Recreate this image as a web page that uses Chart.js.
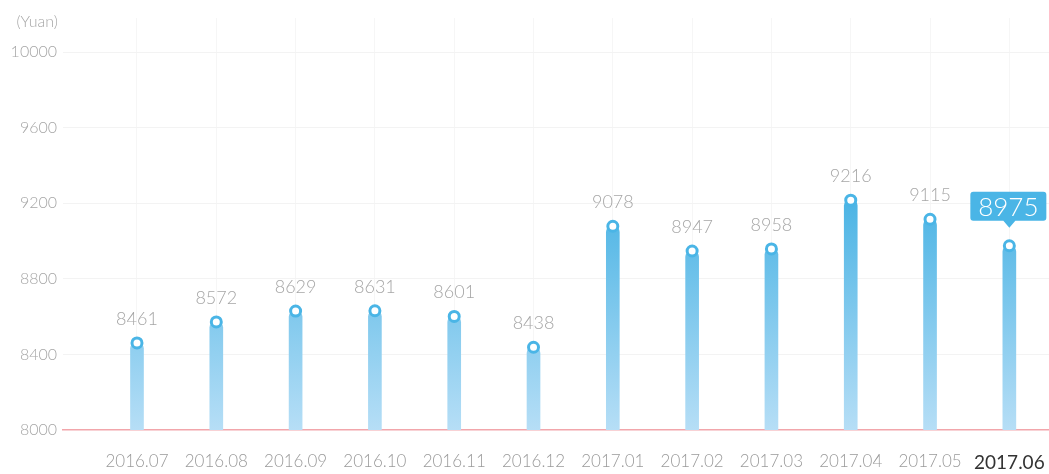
<!DOCTYPE html>
<html>
<head>
<meta charset="utf-8">
<script src="https://cdn.jsdelivr.net/npm/chart.js@4/dist/chart.umd.min.js"></script>
<style>
  html, body { margin: 0; padding: 0; background: #fff; }
  #wrap { width: 1049px; height: 474px; position: relative; }
</style>
</head>
<body>
<div id="wrap"><canvas id="c" width="1049" height="474"></canvas></div>
<script>
// Monthly average salary (Yuan)
const months = ['2016.07', '2016.08', '2016.09', '2016.10', '2016.11', '2016.12',
                '2017.01', '2017.02', '2017.03', '2017.04', '2017.05', '2017.06'];
const salary = [8461, 8572, 8629, 8631, 8601, 8438, 9078, 8947, 8958, 9216, 9115, 8975];
const yTicks = [8000, 8400, 8800, 9200, 9600, 10000];
const unitLabel = '(Yuan)';

const FONT = 'Lato, "Open Sans", sans-serif';
const BLUE = '#48b4e5';
const lastIdx = months.length - 1;

const points = salary.map((v, i) => ({ x: i, y: v }));

function barGradient(ctx) {
  const chart = ctx.chart;
  const area = chart.chartArea;
  if (!area) return BLUE;
  const yScale = chart.scales.y;
  const g = chart.ctx.createLinearGradient(0, yScale.getPixelForValue(9300), 0, area.bottom);
  g.addColorStop(0, '#44b1e3');
  g.addColorStop(1, '#b6def6');
  return g;
}

// Value labels, highlighted callout for the latest month, and the unit caption
const annotate = {
  id: 'annotate',
  afterDatasetsDraw(chart) {
    const c = chart.ctx;
    const meta = chart.getDatasetMeta(1);
    c.save();
    meta.data.forEach((pt, i) => {
      const v = salary[i];
      if (i === lastIdx) {
        const w = 76, h = 29;
        const bx = pt.x - 39, by = pt.y - 54;
        c.fillStyle = '#4ab5e6';
        c.beginPath();
        c.moveTo(bx + 3, by);
        c.lineTo(bx + w - 3, by);
        c.quadraticCurveTo(bx + w, by, bx + w, by + 3);
        c.lineTo(bx + w, by + h - 3);
        c.quadraticCurveTo(bx + w, by + h, bx + w - 3, by + h);
        c.lineTo(pt.x + 6, by + h);
        c.lineTo(pt.x, by + h + 7);
        c.lineTo(pt.x - 6, by + h);
        c.lineTo(bx + 3, by + h);
        c.quadraticCurveTo(bx, by + h, bx, by + h - 3);
        c.lineTo(bx, by + 3);
        c.quadraticCurveTo(bx, by, bx + 3, by);
        c.closePath();
        c.fill();
        c.fillStyle = '#ffffff';
        c.font = '300 26px ' + FONT;
        c.textAlign = 'center';
        c.textBaseline = 'middle';
        c.fillText(String(v), bx + w / 2, by + h / 2 + 1);
      } else {
        c.fillStyle = '#a6a6a6';
        c.font = '300 18px ' + FONT;
        c.textAlign = 'center';
        c.textBaseline = 'middle';
        c.fillText(String(v), pt.x, pt.y - 24);
      }
    });
    c.fillStyle = '#a6a6a6';
    c.font = '300 16px ' + FONT;
    c.textAlign = 'right';
    c.textBaseline = 'middle';
    c.fillText(unitLabel, 58, 22);
    c.restore();
  }
};

new Chart(document.getElementById('c'), {
  type: 'bar',
  data: {
    datasets: [
      {
        type: 'bar',
        data: points,
        backgroundColor: barGradient,
        barThickness: 13,
        borderWidth: 0,
        borderRadius: 6,
        borderSkipped: 'bottom',
        order: 2
      },
      {
        type: 'line',
        data: points,
        showLine: false,
        pointRadius: 5,
        pointBorderWidth: 3,
        pointBackgroundColor: '#ffffff',
        pointBorderColor: '#4ab5e6',
        pointHoverRadius: 5,
        clip: false,
        order: 1
      }
    ]
  },
  options: {
    responsive: false,
    animation: false,
    events: [],
    layout: { autoPadding: false, padding: { top: 18, right: 0, left: 0, bottom: 0 } },
    plugins: { legend: { display: false }, tooltip: { enabled: false } },
    scales: {
      x: {
        type: 'linear',
        offset: false,
        min: -0.933,
        max: 11.5,
        afterBuildTicks(scale) { scale.ticks = months.map((_, i) => ({ value: i })); },
        afterFit(scale) {
          scale.height = 44;
          scale.paddingLeft = 0;
          scale.paddingRight = 0;
        },
        grid: { drawTicks: false, offset: false, color: '#f6f6f6', lineWidth: 1 },
        border: { display: true, color: '#f2a6ab', width: 1.5 },
        ticks: {
          padding: 21,
          autoSkip: false,
          maxRotation: 0,
          callback: (v) => months[v],
          color: (ctx) => ctx.index === lastIdx ? '#333333' : '#9a9a9a',
          font: (ctx) => ctx.index === lastIdx
            ? { family: FONT, size: 19, weight: '400' }
            : { family: FONT, size: 17, weight: '300' }
        }
      },
      y: {
        min: 8000,
        max: 10180,
        afterBuildTicks(scale) { scale.ticks = yTicks.map(v => ({ value: v })); },
        afterFit(scale) { scale.width = 63; },
        grid: { drawTicks: false, color: (ctx) => ctx.tick && ctx.tick.value === 8000 ? 'rgba(0,0,0,0)' : '#f3f3f3' },
        border: { display: false },
        ticks: {
          padding: 6,
          color: '#a6a6a6',
          callback: (v) => String(v),
          font: { family: FONT, size: 16, weight: '300' }
        }
      }
    }
  },
  plugins: [annotate]
});
</script>
</body>
</html>
